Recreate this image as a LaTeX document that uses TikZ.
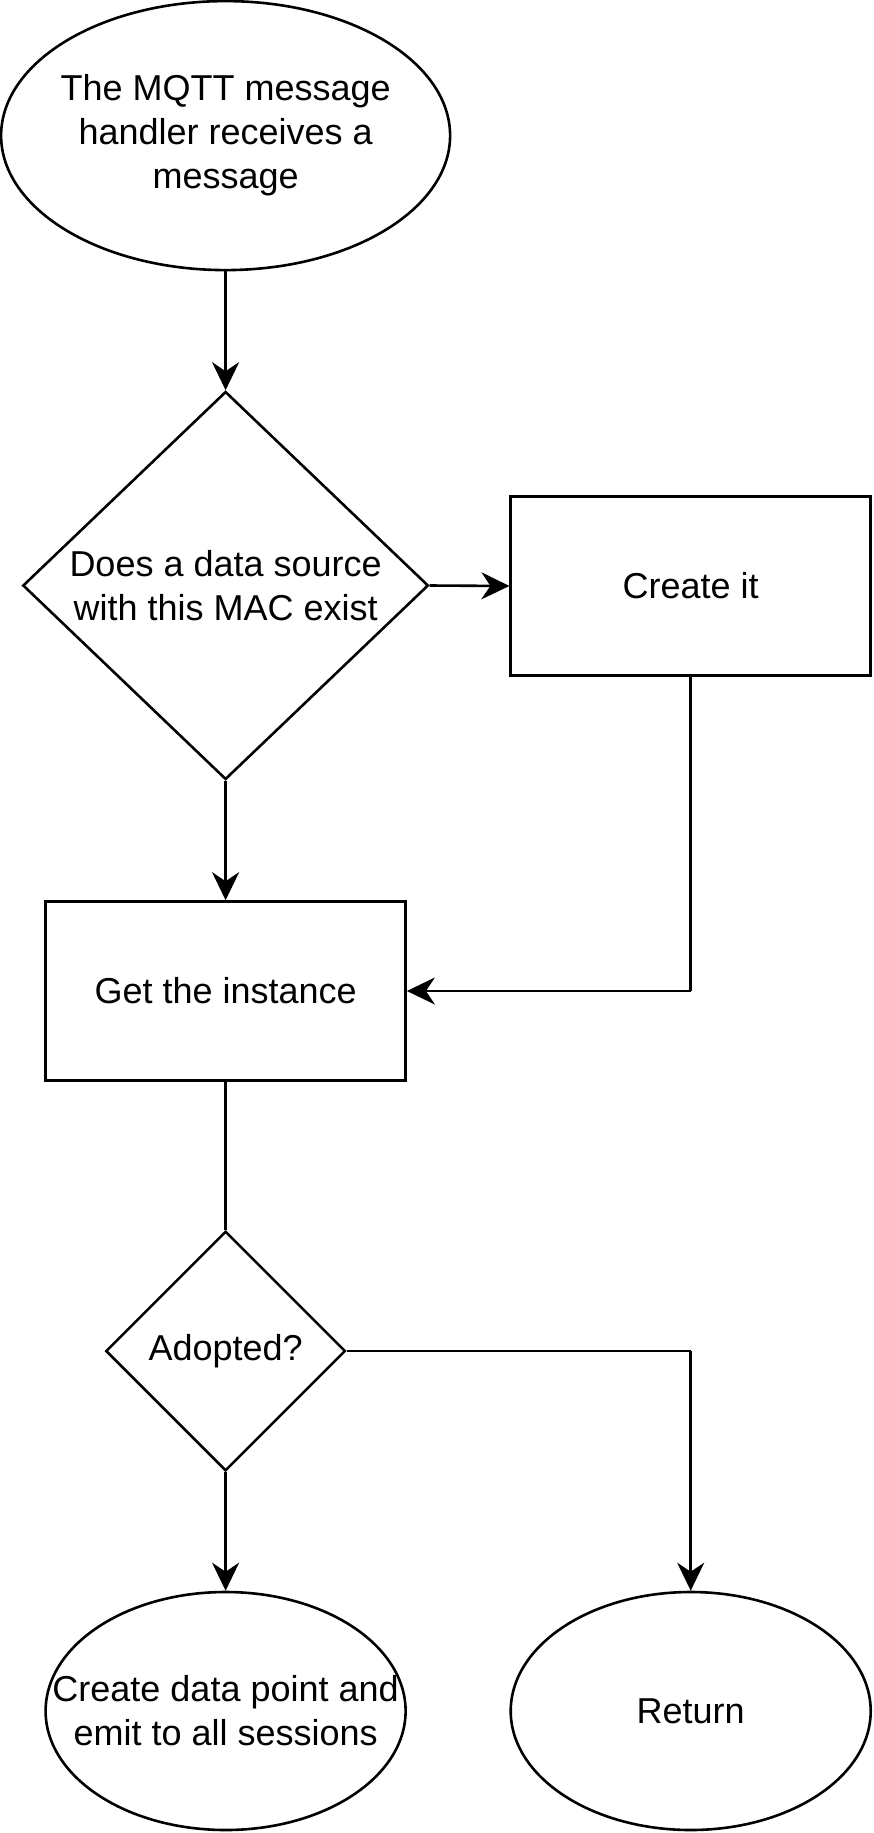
\documentclass[tikz,border=0pt]{standalone}
\usepackage{fontspec}
\setmainfont{Liberation Sans}
\usetikzlibrary{shapes.geometric,arrows.meta}
\begin{document}
\begin{tikzpicture}[x=1pt,y=-1pt,
  base/.style={draw=black,line width=2.6pt,font=\fontsize{36}{44}\selectfont,align=center,inner sep=0pt},
  oval/.style={draw=black,line width=2.6pt,ellipse,inner sep=0pt},
  txt/.style={font=\fontsize{36}{44}\selectfont,align=center,inner sep=0pt},
  rectbox/.style={base,rectangle,minimum width=360pt,minimum height=179pt},
  flow/.style={line width=2.6pt,-{Stealth[length=28pt,width=27pt,inset=9pt]}},
  plain/.style={line width=2.6pt}]
\useasboundingbox (0,0) rectangle (873,1833);
\node[oval,minimum width=449pt,minimum height=269pt] (start) at (225.6,135.6) {};
\node[txt] (startlbl) at (start) {The MQTT message\\handler receives a\\message};
\node[base,diamond,minimum width=405.6pt,minimum height=388pt] (q1) at (225.6,585.5) {Does a data source\\with this MAC exist};
\node[rectbox] (create) at (690.7,586) {Create it};
\node[rectbox] (get) at (225.6,991) {Get the instance};
\node[base,diamond,minimum width=239.6pt,minimum height=239.6pt] (q2) at (225.6,1351) {Adopted?};
\node[oval,minimum width=360pt,minimum height=238pt] (emit) at (225.6,1711) {};
\node[txt] (emitlbl) at (emit) {Create data point and\\emit to all sessions};
\node[oval,minimum width=360pt,minimum height=238pt] (ret) at (690.7,1711) {};
\node[txt] (retlbl) at (ret) {Return};
\coordinate (c1) at (690.7,991);
\coordinate (c2) at (690.7,1351);
\draw[flow] (start.south) -- (q1.north);
\draw[flow] (q1.east) -- (create.west);
\draw[flow] (q1.south) -- (get.north);
\draw[plain] (create.south) -- (c1);
\draw[flow] (c1) -- (get.east);
\draw[plain] (get.south) -- (q2.north);
\draw[flow] (q2.south) -- (emit.north);
\draw[plain] (q2.east) -- (c2);
\draw[flow] (c2) -- (ret.north);
\end{tikzpicture}
\end{document}
